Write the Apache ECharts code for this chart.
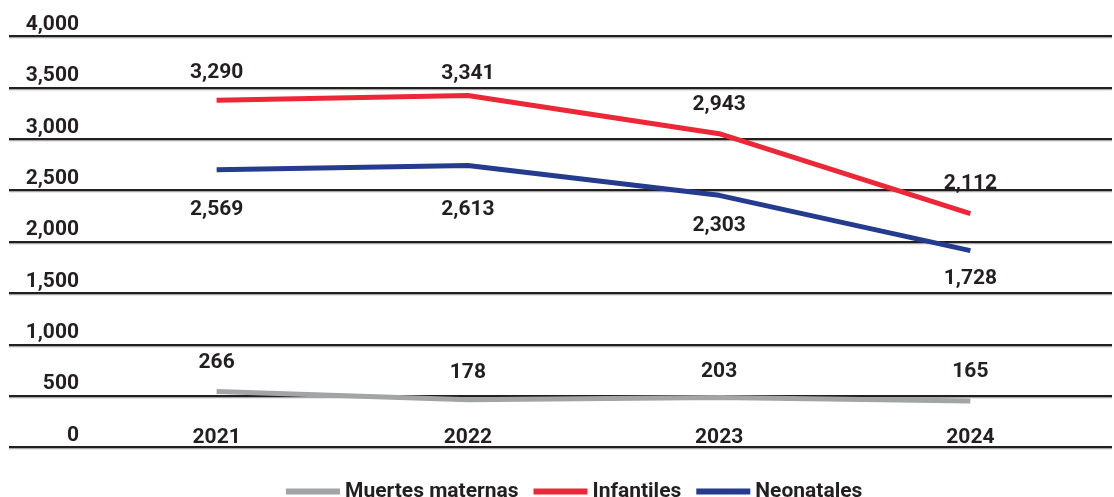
<!DOCTYPE html>
<html>
<head>
<meta charset="utf-8">
<script src="https://cdn.jsdelivr.net/npm/echarts@6/dist/echarts.min.js"></script>
<style>
html, body { margin: 0; padding: 0; background: #fff; }
#main { width: 1114px; height: 497px; }
</style>
</head>
<body>
<div id="main"></div>
<script>
// datos
var years = ['2021', '2022', '2023', '2024'];
var maternas = [266, 178, 203, 165];
var infantiles = [3290, 3341, 2943, 2112];
var neonatales = [2569, 2613, 2303, 1728];
var yMax = 4000;
var yStep = 500;

var ink = '#231f20';
var font = 'Roboto';
var fsize = 21;

// separacion de etiquetas (px) por punto
var gapMat = [18, 17, 15, 19];
var gapInf = [17, 11, 18, 19];
var gapNeo = [30, 34, 20, 18];

function fmt(v) {
	return Number(v).toLocaleString('en-US');
}

function build(values, gaps) {
	var out = [];
	for (var i = 0; i < values.length; i++) {
		out.push({ value: values[i], label: { distance: gaps[i] } });
	}
	return out;
}

function serie(name, color, values, gaps, pos) {
	return {
		name: name,
		type: 'line',
		xAxisIndex: 1,
		yAxisIndex: 1,
		data: build(values, gaps),
		symbol: 'circle',
		symbolSize: 0,
		showSymbol: true,
		silent: true,
		lineStyle: { color: color, width: 5, cap: 'butt' },
		itemStyle: { color: color },
		label: {
			show: true,
			position: pos,
			fontFamily: font,
			fontSize: fsize,
			fontWeight: 'bold',
			color: ink,
			formatter: function (p) { return fmt(p.value); }
		}
	};
}

var option = {
	animation: false,
	backgroundColor: '#fff',
	textStyle: { fontFamily: font },
	grid: [
		{ left: 9, right: 2, top: 36, bottom: 50 },	// rejilla
		{ left: 91, right: 18, top: 32, bottom: 80 }	// datos
	],
	xAxis: [
		{ gridIndex: 0, type: 'value', show: false },
		{
			gridIndex: 1,
			type: 'category',
			data: years,
			axisLine: { show: false },
			axisTick: { show: false },
			axisLabel: {
				margin: 10,
				fontFamily: font,
				fontSize: fsize,
				fontWeight: 'bold',
				color: ink
			}
		}
	],
	yAxis: [
		{
			gridIndex: 0,
			type: 'value',
			min: 0,
			max: yMax,
			interval: yStep,
			axisLine: { show: false },
			axisTick: { show: false },
			axisLabel: {
				inside: true,
				align: 'right',
				verticalAlign: 'bottom',
				margin: 70,
				padding: [0, 0, 1, 0],
				fontFamily: font,
				fontSize: fsize,
				fontWeight: 'bold',
				color: ink,
				formatter: function (v) { return fmt(v); }
			},
			splitLine: {
				show: true,
				lineStyle: {
					color: ink,
					width: 2,
					shadowColor: 'rgba(0,0,0,0.35)',
					shadowOffsetY: 1.2,
					shadowBlur: 0
				}
			}
		},
		{
			gridIndex: 1,
			type: 'value',
			min: 0,
			max: yMax,
			show: false,
			splitLine: { show: false }
		}
	],
	legend: {
		data: ['Muertes maternas', 'Infantiles', 'Neonatales'],
		left: 281,
		top: 476,
		icon: 'rect',
		itemWidth: 54,
		itemHeight: 6,
		itemGap: 15,
		selectedMode: false,
		textStyle: {
			fontFamily: font,
			fontSize: fsize,
			fontWeight: 'bold',
			color: ink
		}
	},
	series: [
		serie('Muertes maternas', '#a2a4a5', maternas, gapMat, 'top'),
		serie('Infantiles', '#ec2737', infantiles, gapInf, 'top'),
		serie('Neonatales', '#253b8e', neonatales, gapNeo, 'bottom')
	]
};

var chart = echarts.init(document.getElementById('main'));
chart.setOption(option);
</script>
</body>
</html>
